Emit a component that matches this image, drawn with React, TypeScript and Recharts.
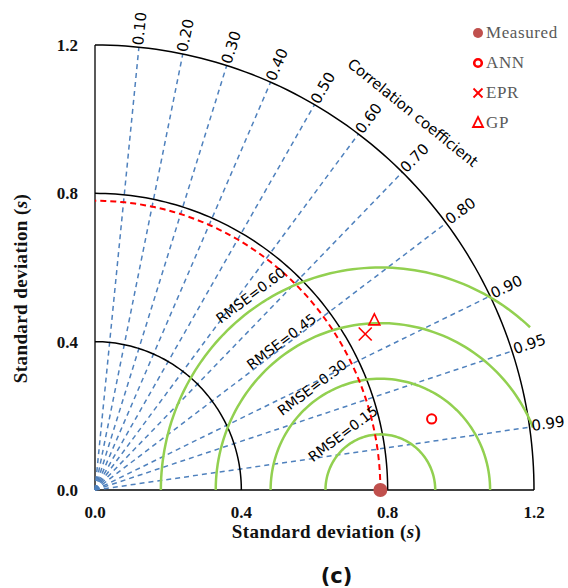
import { Label, Legend, Scatter, ScatterChart, XAxis, YAxis } from "recharts";

const STD_TICKS = [0, 0.4, 0.8, 1.2];
const STD_ARCS = [0.4, 0.8, 1.2];
const CORR_LEVELS = [0.1, 0.2, 0.3, 0.4, 0.5, 0.6, 0.7, 0.8, 0.9, 0.95, 0.99];
const CORR_LABELS = ["0.10", "0.20", "0.30", "0.40", "0.50", "0.60", "0.70", "0.80", "0.90", "0.95", "0.99"];
const RMSE_LEVELS = [0.15, 0.3, 0.45, 0.6];
const RMSE_LABELS = ["RMSE=0.15", "RMSE=0.30", "RMSE=0.45", "RMSE=0.60"];
/** Where each RMSE arc stops on its right-hand side (degrees about the measured point). */
const RMSE_END_DEG = [0, 0, 22, 47];
const MEASURED_STD = 0.78;

const MODELS = ["ANN", "EPR", "GP"];
const MODEL_STD = [0.94, 0.85, 0.89];
const MODEL_CORR = [0.979, 0.869, 0.858];
const LEGEND_ORDER = ["Measured", ...MODELS];

const MAX_STD = 1.2;
const RAD = Math.PI / 180;

const SERIF = '"Liberation Serif", "Times New Roman", serif';
const SANS = '"DejaVu Sans", sans-serif';
const BLUE = "#4F81BD";
const GREEN = "#92D050";
const RED = "#FF0000";
const BROWN = "#C0504D";
const INK = "#000000";

type Pt = { x: number; y: number };

const clamp = (v: number) => Math.min(MAX_STD, Math.max(0, v));

/** Points along a circle of radius r centred at (cx, 0). */
function arc(cx: number, r: number, fromDeg: number, toDeg: number): Pt[] {
  const pts: Pt[] = [];
  const steps = 90;
  for (let i = 0; i <= steps; i++) {
    const a = (fromDeg + ((toDeg - fromDeg) * i) / steps) * RAD;
    pts.push({ x: clamp(cx + r * Math.cos(a)), y: clamp(r * Math.sin(a)) });
  }
  return pts;
}

/** Std-dev / correlation to chart coordinates. */
function taylor(s: number, r: number): Pt {
  return { x: s * r, y: s * Math.sqrt(1 - r * r) };
}

const corrLines = CORR_LEVELS.map((r) => [{ x: 0, y: 0 }, taylor(MAX_STD, r)]);
const corrLabels = CORR_LEVELS.map((r, i) => ({
  ...taylor(MAX_STD, r),
  text: CORR_LABELS[i],
  deg: Math.acos(r) / RAD,
}));
const rmseLabels = RMSE_LEVELS.map((e, i) => ({
  x: MEASURED_STD + (e + 0.033) * Math.cos(124 * RAD),
  y: (e + 0.033) * Math.sin(124 * RAD),
  text: RMSE_LABELS[i],
}));
const corrTitle = [{ x: 1.338 * Math.cos(49.5 * RAD), y: 1.338 * Math.sin(49.5 * RAD) }];
const measured = [{ x: MEASURED_STD, y: 0 }];
const modelPoints = MODELS.map((_, i) => [taylor(MODEL_STD[i], MODEL_CORR[i])]);

function Marker({ kind, cx, cy, legend }: { kind: string; cx: number; cy: number; legend?: boolean }) {
  if (kind === "Measured") return <circle cx={cx} cy={cy} r={legend ? 5 : 7} fill={BROWN} />;
  if (kind === "ANN")
    return <circle cx={cx} cy={cy} r={legend ? 3.8 : 4.6} fill="none" stroke={RED} strokeWidth={legend ? 2.6 : 2} />;
  if (kind === "EPR") {
    const h = legend ? 4.5 : 6.5;
    return (
      <g stroke={RED} strokeWidth={legend ? 1.8 : 1.6}>
        <line x1={cx - h} y1={cy - h} x2={cx + h} y2={cy + h} />
        <line x1={cx - h} y1={cy + h} x2={cx + h} y2={cy - h} />
      </g>
    );
  }
  const w = legend ? 10 : 11;
  const h = legend ? 10 : 11;
  return (
    <path
      d={`M${cx},${cy - h * 0.6} L${cx + w / 2},${cy + h * 0.4} L${cx - w / 2},${cy + h * 0.4} Z`}
      fill="none"
      stroke={RED}
      strokeWidth={legend ? 1.8 : 1.6}
    />
  );
}

function LegendList({ payload }: any) {
  const items = (payload ?? [])
    .filter((p: any) => p.type !== "none" && LEGEND_ORDER.includes(p.value))
    .sort((a: any, b: any) => LEGEND_ORDER.indexOf(a.value) - LEGEND_ORDER.indexOf(b.value));
  return (
    <div>
      {items.map((item: any) => (
        <div key={item.value} style={{ display: "flex", alignItems: "center", height: 30 }}>
          <svg width={16} height={16} style={{ flex: "none" }}>
            <Marker kind={item.value} cx={8} cy={8} legend />
          </svg>
          <span
            style={{
              fontFamily: SERIF,
              fontSize: 17,
              letterSpacing: 0.6,
              color: "#595959",
              lineHeight: "16px",
            }}
          >
            {item.value}
          </span>
        </div>
      ))}
    </div>
  );
}

const noDot = () => <g />;

function CorrText(props: any) {
  const { cx, cy, payload } = props;
  return (
    <text
      x={cx}
      y={cy}
      dx={2}
      dy={4}
      transform={`rotate(${-payload.deg} ${cx} ${cy})`}
      fontFamily={SANS}
      fontSize={15}
      fill={INK}
    >
      {payload.text}
    </text>
  );
}

function RmseText(props: any) {
  const { cx, cy, payload } = props;
  return (
    <text
      x={cx}
      y={cy}
      dy="0.35em"
      textAnchor="middle"
      transform={`rotate(-37 ${cx} ${cy})`}
      fontFamily={SANS}
      fontSize={14}
      fill={INK}
    >
      {payload.text}
    </text>
  );
}

function CorrTitle(props: any) {
  const { cx, cy } = props;
  return (
    <text
      x={cx}
      y={cy}
      dy="0.35em"
      textAnchor="middle"
      transform={`rotate(39 ${cx} ${cy})`}
      fontFamily={SANS}
      fontSize={14.7}
      fill={INK}
    >
      Correlation coefficient
    </text>
  );
}

const titleStyle = { fontFamily: SERIF, fontWeight: 700, fontSize: 19, letterSpacing: 0.4, fill: "#111" };

function XTitle(props: any) {
  const vb = props.viewBox ?? { x: 95, y: 490, width: 439, height: 60 };
  const cx = vb.x + vb.width / 2 + 12;
  return (
    <g>
      <text x={cx} y={vb.y + 48} textAnchor="middle" {...titleStyle}>
        Standard deviation (<tspan fontStyle="italic">s</tspan>)
      </text>
      <text x={cx + 10} y={vb.y + 93} textAnchor="middle" fontFamily={SANS} fontWeight={700} fontSize={21} fill="#111">
        (c)
      </text>
    </g>
  );
}

function YTitle(props: any) {
  const vb = props.viewBox ?? { x: 0, y: 45, width: 95, height: 445 };
  const x = vb.x + 27;
  const y = vb.y + vb.height / 2 + 21;
  return (
    <text x={x} y={y} textAnchor="middle" transform={`rotate(-90 ${x} ${y})`} {...titleStyle}>
      Standard deviation (<tspan fontStyle="italic">s</tspan>)
    </text>
  );
}

const tickStyle = { fill: "#111", fontFamily: SERIF, fontWeight: 700, fontSize: 17 };

export default function App() {
  return (
    <div style={{ position: "absolute", left: 0, top: 0 }}>
      <ScatterChart width={568} height={588} margin={{ top: 45, right: 34, bottom: 38, left: 0 }}>
        <XAxis
          type="number"
          dataKey="x"
          domain={[0, MAX_STD]}
          ticks={STD_TICKS}
          interval={0}
          tickFormatter={(v) => Number(v).toFixed(1)}
          axisLine={{ stroke: INK, strokeWidth: 1.3 }}
          tickLine={false}
          tickSize={6}
          tickMargin={10}
          tick={tickStyle}
          height={60}
        >
          <Label content={XTitle} />
        </XAxis>
        <YAxis
          type="number"
          dataKey="y"
          domain={[0, MAX_STD]}
          ticks={STD_TICKS}
          interval={0}
          tickFormatter={(v) => Number(v).toFixed(1)}
          axisLine={{ stroke: INK, strokeWidth: 1.3 }}
          tickLine={false}
          tickSize={6}
          tickMargin={11}
          tick={tickStyle}
          width={95}
        >
          <Label content={YTitle} />
        </YAxis>
        <Legend
          layout="horizontal"
          align="center"
          verticalAlign="middle"
          wrapperStyle={{ left: 470, top: 18, width: 98 }}
          content={LegendList}
        />

        {corrLines.map((pts, i) => (
          <Scatter
            key={`corr-${i}`}
            data={pts}
            fill={BLUE}
            line={{ stroke: BLUE, strokeWidth: 1.5, strokeDasharray: "5 4" }}
            shape={noDot}
            legendType="none"
            isAnimationActive={false}
          />
        ))}
        {STD_ARCS.map((s) => (
          <Scatter
            key={`std-${s}`}
            data={arc(0, s, 0, 90)}
            fill={INK}
            line={{ stroke: INK, strokeWidth: 1.5 }}
            shape={noDot}
            legendType="none"
            isAnimationActive={false}
          />
        ))}
        {RMSE_LEVELS.map((e, i) => (
          <Scatter
            key={`rmse-${e}`}
            data={arc(MEASURED_STD, e, 180, RMSE_END_DEG[i])}
            fill={GREEN}
            line={{ stroke: GREEN, strokeWidth: 2.5 }}
            shape={noDot}
            legendType="none"
            isAnimationActive={false}
          />
        ))}
        <Scatter
          data={arc(0, MEASURED_STD, 0, 90)}
          fill={RED}
          line={{ stroke: RED, strokeWidth: 2, strokeDasharray: "6 4" }}
          shape={noDot}
          legendType="none"
          isAnimationActive={false}
        />
        <Scatter data={corrLabels} shape={CorrText} legendType="none" isAnimationActive={false} />
        <Scatter data={rmseLabels} shape={RmseText} legendType="none" isAnimationActive={false} />
        <Scatter data={corrTitle} shape={CorrTitle} legendType="none" isAnimationActive={false} />

        <Scatter
          name="Measured"
          data={measured}
          fill={BROWN}
          shape={(p: any) => <Marker kind="Measured" cx={p.cx} cy={p.cy} />}
          isAnimationActive={false}
        />
        {MODELS.map((m, i) => (
          <Scatter
            key={m}
            name={m}
            data={modelPoints[i]}
            fill={RED}
            shape={(p: any) => <Marker kind={m} cx={p.cx} cy={p.cy} />}
            isAnimationActive={false}
          />
        ))}
      </ScatterChart>
    </div>
  );
}
